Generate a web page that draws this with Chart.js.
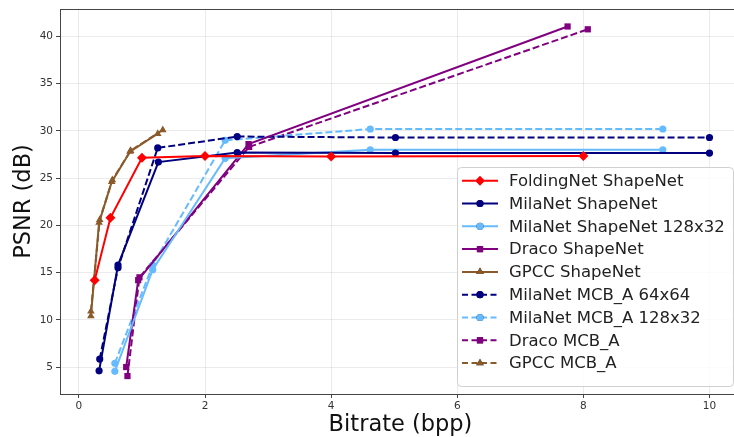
<!DOCTYPE html>
<html>
<head>
<meta charset="utf-8">
<script src="https://cdn.jsdelivr.net/npm/chart.js@4/dist/chart.umd.min.js"></script>
<style>
  html, body { margin: 0; padding: 0; background: #fff; overflow: hidden; }
  .wrap { width: 734px; height: 437px; overflow: hidden; }
</style>
</head>
<body>
<div class="wrap"><canvas class="js-chart" width="746" height="437"></canvas></div>
<script>
// bitrate (bpp) / PSNR (dB)
const foldingX = [0.25, 0.5, 1.0, 2.0, 4.0, 8.0];
const foldingY = [14.2, 20.8, 27.15, 27.35, 27.3, 27.35];
const milaX = [0.32, 0.62, 1.26, 2.51, 5.02, 10.0];
const milaY = [4.6, 15.8, 26.7, 27.7, 27.65, 27.65];
const mila128X = [0.57, 1.17, 2.32, 4.62, 9.26];
const mila128Y = [4.55, 15.3, 27.1, 28.0, 28.0];
const dracoX = [0.75, 0.94, 2.69, 7.75];
const dracoY = [5.0, 14.2, 28.6, 41.05];
const gpccX = [0.19, 0.32, 0.52, 0.81, 1.25];
const gpccY = [10.4, 20.3, 24.6, 27.8, 29.7];
const mcbMilaX = [0.33, 0.62, 1.25, 2.51, 5.02, 10.0];
const mcbMilaY = [5.85, 15.5, 28.2, 29.4, 29.3, 29.3];
const mcbMila128X = [0.57, 1.17, 2.32, 4.62, 9.26];
const mcbMila128Y = [5.4, 15.8, 29.0, 30.2, 30.2];
const mcbDracoX = [0.77, 0.96, 2.7, 8.07];
const mcbDracoY = [4.05, 14.5, 28.3, 40.75];
const mcbGpccX = [0.19, 0.33, 0.53, 0.82, 1.33];
const mcbGpccY = [10.9, 20.6, 24.8, 27.9, 30.1];

const xTicks = [0, 2, 4, 6, 8, 10];
const yTicks = [5, 10, 15, 20, 25, 30, 35, 40];

const RED = '#ff0000';
const NAVY = '#000080';
const SKY = '#66bbff';
const PURPLE = '#800080';
const BROWN = '#8b5a2b';
const DASH = [7, 3];
const FONT = "'DejaVu Sans', sans-serif";

function pts(xs, ys) {
  return xs.map((x, i) => ({ x: x, y: ys[i] }));
}

function series(label, xs, ys, color, style, dashed) {
  return {
    label: label,
    data: pts(xs, ys),
    showLine: true,
    borderColor: color,
    backgroundColor: color,
    borderWidth: 2,
    borderDash: dashed ? DASH : [],
    pointStyle: style,
    pointRadius: style === 'rectRot' ? 5 : (style === 'circle' ? 3.6 : 4.4),
    pointBorderWidth: 0,
    pointBackgroundColor: color,
    tension: 0
  };
}

const datasets = [
  series('FoldingNet ShapeNet', foldingX, foldingY, RED, 'rectRot', false),
  series('MilaNet ShapeNet', milaX, milaY, NAVY, 'circle', false),
  series('MilaNet ShapeNet 128x32', mila128X, mila128Y, SKY, 'circle', false),
  series('Draco ShapeNet', dracoX, dracoY, PURPLE, 'rect', false),
  series('GPCC ShapeNet', gpccX, gpccY, BROWN, 'triangle', false),
  series('MilaNet MCB_A 64x64', mcbMilaX, mcbMilaY, NAVY, 'circle', true),
  series('MilaNet MCB_A 128x32', mcbMila128X, mcbMila128Y, SKY, 'circle', true),
  series('Draco MCB_A', mcbDracoX, mcbDracoY, PURPLE, 'rect', true),
  series('GPCC MCB_A', mcbGpccX, mcbGpccY, BROWN, 'triangle', true)
];

// box around the plot area + legend in the lower right, like the matplotlib one
const framePlugin = {
  id: 'frame',
  afterDatasetsDraw(chart) {
    const ctx = chart.ctx;
    const a = chart.chartArea;
    ctx.save();
    ctx.strokeStyle = '#444';
    ctx.lineWidth = 1;
    ctx.strokeRect(Math.round(a.left) + 0.5, Math.round(a.top) + 0.5,
      Math.round(a.right - a.left), Math.round(a.bottom - a.top));

    // legend
    const lx = 457, ly = 167, lw = 276, lh = 219, rowH = 22.8;
    ctx.beginPath();
    ctx.roundRect(lx + 0.5, ly + 0.5, lw, lh, 4);
    ctx.fillStyle = 'rgba(255,255,255,0.85)';
    ctx.fill();
    ctx.strokeStyle = '#d0d0d0';
    ctx.stroke();

    ctx.font = '16.5px ' + FONT;
    ctx.textBaseline = 'middle';
    chart.data.datasets.forEach((ds, i) => {
      const y = ly + 13.7 + i * rowH;
      ctx.save();
      ctx.strokeStyle = ds.borderColor;
      ctx.lineWidth = 2;
      ctx.setLineDash(ds.borderDash.length ? [6, 3.5] : []);
      ctx.beginPath();
      ctx.moveTo(lx + 5, y);
      ctx.lineTo(lx + 41, y);
      ctx.stroke();
      ctx.restore();
      Chart.helpers.drawPoint(ctx, {
        pointStyle: ds.pointStyle,
        radius: ds.pointRadius,
        rotation: 0,
        borderWidth: 0
      }, lx + 23, y);
      ctx.fillStyle = ds.borderColor;
      ctx.fill();
      ctx.fillStyle = '#222';
      ctx.fillText(ds.label, lx + 52, y + 1);
    });
    ctx.restore();
  }
};

const config = {
  type: 'scatter',
  data: { datasets: datasets },
  options: {
    responsive: false,
    animation: false,
    layout: { padding: { top: 9, right: 2, left: 0, bottom: 0 } },
    plugins: {
      legend: { display: false },
      tooltip: { enabled: false }
    },
    scales: {
      x: {
        type: 'linear',
        min: -0.3,
        max: 10.5,
        afterBuildTicks: (axis) => { axis.ticks = xTicks.map(v => ({ value: v })); },
        afterFit: (axis) => {
          axis.height = 43;
          axis.paddingLeft = 0;
          axis.paddingRight = 0;
        },
        border: { display: false },
        grid: { color: 'rgba(0,0,0,0.08)', tickColor: '#444', tickLength: 4 },
        ticks: { color: '#333', font: { family: FONT, size: 10.5 }, padding: 2, maxRotation: 0 },
        title: {
          display: true,
          text: 'Bitrate (bpp)',
          color: '#111',
          font: { family: FONT, size: 22.5, lineHeight: 1 },
          padding: { top: 0, bottom: 1 }
        }
      },
      y: {
        type: 'linear',
        min: 2.15,
        max: 42.9,
        afterBuildTicks: (axis) => { axis.ticks = yTicks.map(v => ({ value: v })); },
        afterFit: (axis) => {
          axis.width = 60;
          axis.paddingTop = 0;
          axis.paddingBottom = 0;
        },
        border: { display: false },
        grid: { color: 'rgba(0,0,0,0.08)', tickColor: '#444', tickLength: 4 },
        ticks: { color: '#333', font: { family: FONT, size: 10.5 }, padding: 3 },
        title: {
          display: true,
          text: 'PSNR (dB)',
          color: '#111',
          font: { family: FONT, size: 22.5, lineHeight: 1 },
          padding: { top: 13, bottom: 0 }
        }
      }
    }
  },
  plugins: [framePlugin]
};

new Chart(document.querySelector('.js-chart'), config);
</script>
</body>
</html>
